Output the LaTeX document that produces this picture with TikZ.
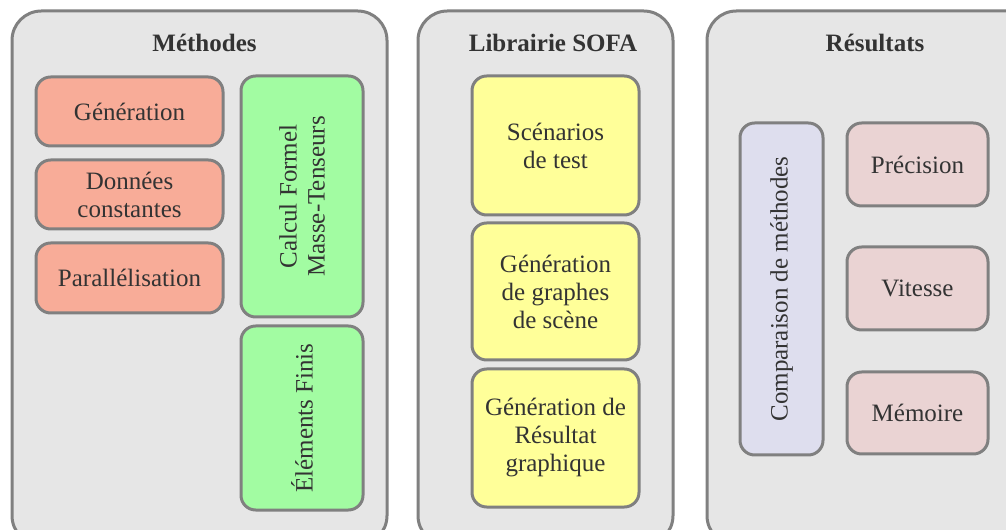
\documentclass[tikz,border=0pt]{standalone}
\usepackage{fontspec}
\setmainfont{Liberation Serif}
\definecolor{outfill}{HTML}{E6E6E6}
\definecolor{edge}{HTML}{808080}
\definecolor{txt}{HTML}{333333}
\definecolor{cred}{HTML}{F8AC98}
\definecolor{cgreen}{HTML}{A2FCA2}
\definecolor{cyellow}{HTML}{FFFF99}
\definecolor{cpurple}{HTML}{DEDEEE}
\definecolor{cpink}{HTML}{EAD3D3}
\newcommand{\bx}[7]{\node[#2, minimum width={(#5-#3)*0.75pt}, minimum height={(#6-#4)*0.75pt}] (#1) at ({(#3+#5)/2},{(#4+#6)/2}) {#7};}
\newcommand{\vbx}[7]{\node[#2, rotate=90, minimum width={(#6-#4)*0.75pt}, minimum height={(#5-#3)*0.75pt}] (#1) at ({(#3+#5)/2},{(#4+#6)/2}) {#7};}
\tikzset{
  base/.style={draw=edge, line width=2.25pt, inner sep=0pt, outer sep=0pt, align=center, text=txt,
    font=\fontsize{18.75}{21}\selectfont},
  outer/.style={base, fill=outfill, rounded corners=22pt},
  inner/.style={base, rounded corners=11pt},
  redbox/.style={inner, fill=cred},
  greenbox/.style={inner, fill=cgreen},
  yellowbox/.style={inner, fill=cyellow},
  purplebox/.style={inner, fill=cpurple},
  pinkbox/.style={inner, fill=cpink},
  title/.style={anchor=base, text=txt, inner sep=0pt, font=\fontsize{18.75}{21}\selectfont\bfseries},
}
\begin{document}
\begin{tikzpicture}[x=0.75pt, y=-0.75pt]
\useasboundingbox (0,0) rectangle (1006,530);
\clip (0,0) rectangle (1006,530);
% outer panels
\bx{meth}{outer}{12}{11}{387}{545}{}
\bx{sofa}{outer}{418}{11}{673}{545}{}
\bx{res}{outer}{707}{11}{1040}{545}{}
\node[title] (tmeth) at (204.5,51.5) {Méthodes};
\node[title] (tsofa) at (553,51.5) {Librairie SOFA};
\node[title] (tres) at (875,51.5) {Résultats};
% Méthodes
\bx{gen}{redbox}{36}{77}{223}{146}{Génération}
\bx{don}{redbox}{36}{160}{223}{229}{Données\\constantes}
\bx{par}{redbox}{36}{243}{223}{313}{Parallélisation}
\vbx{calc}{greenbox}{241}{76}{363}{317}{Calcul Formel\\Masse-Tenseurs}
\vbx{fem}{greenbox}{241}{326}{363}{510}{Éléments Finis}
% SOFA
\bx{scen}{yellowbox}{472}{76}{639}{215}{Scénarios\\de test}
\bx{graph}{yellowbox}{472}{223}{639}{360}{Génération\\de graphes\\de scène}
\bx{rgraph}{yellowbox}{472}{369}{639}{507}{Génération de\\Résultat\\graphique}
% Résultats
\vbx{comp}{purplebox}{740}{123}{823}{455}{Comparaison de méthodes}
\bx{prec}{pinkbox}{847}{123}{988}{206}{Précision}
\bx{vit}{pinkbox}{847}{247}{988}{330}{Vitesse}
\bx{mem}{pinkbox}{847}{372}{988}{454}{Mémoire}
\end{tikzpicture}
\end{document}
